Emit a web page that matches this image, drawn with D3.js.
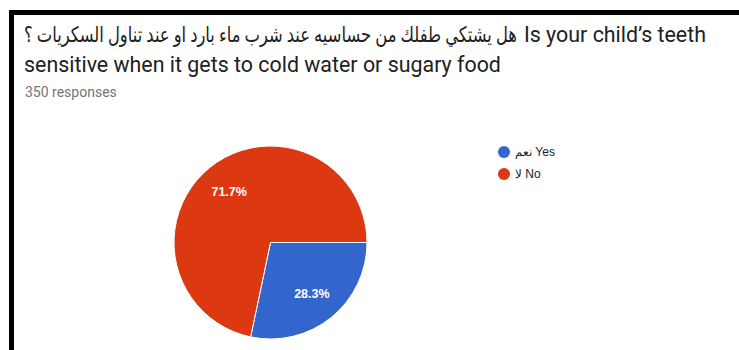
<!DOCTYPE html>
<html>
<head>
<meta charset="utf-8">
<script src="https://cdn.jsdelivr.net/npm/d3@7"></script>
<style>
  body { margin: 0; background: #fff; }
  svg { display: block; }
</style>
</head>
<body>
<svg id="chart"></svg>
<script>
// data
const categories = ['Yes', 'No']
const categoryLabels = ['\u2067نعم\u2069 Yes', '\u2067لا\u2069 No']
const shares = [28.3, 71.7]
const colors = ['#3366cc', '#dc3912']
const titleArabic = '\u2067هل يشتكي طفلك من حساسيه عند شرب ماء بارد او عند تناول السكريات ؟\u2069'
const titleEnglish = ['Is your child\u2019s teeth', 'sensitive when it gets to cold water or sugary food']
const subtitle = '350 responses'

const width = 739, height = 350
const svg = d3.select('#chart')
	.attr('width', width)
	.attr('height', height)

// black frame (top and left edges visible)
svg.append('path')
	.attr('d', `M11.5,${height} V12.5 H${width}`)
	.attr('fill', 'none')
	.attr('stroke', '#000')
	.attr('stroke-width', 5)

const titleFont = 'Roboto, "DejaVu Sans", sans-serif'
const titleSize = 21.4

// english end of line 1 sits flush at the right
const en1 = svg.append('text')
	.attr('x', 706)
	.attr('y', 42)
	.attr('text-anchor', 'end')
	.attr('font-family', titleFont)
	.attr('font-size', titleSize)
	.attr('fill', '#212121')
	.text(titleEnglish[0])
const en1Start = 706 - en1.node().getComputedTextLength()

// arabic part of line 1, narrowed to fit the room left of it
const ar = svg.append('text')
	.attr('font-family', titleFont)
	.attr('font-size', titleSize)
	.attr('fill', '#212121')
	.text(titleArabic)
const arRoom = en1Start - 7 - 24
const sx = Math.min(1, arRoom / ar.node().getComputedTextLength())
ar.attr('transform', `translate(24,42) scale(${sx},1)`)

svg.append('text')
	.attr('x', 24)
	.attr('y', 72)
	.attr('font-family', titleFont)
	.attr('font-size', titleSize)
	.attr('fill', '#212121')
	.text(titleEnglish[1])

svg.append('text')
	.attr('x', 25)
	.attr('y', 97)
	.attr('font-family', 'Roboto, sans-serif')
	.attr('font-size', 14)
	.attr('fill', '#757575')
	.text(subtitle)

// pie
const cx = 270.5, cy = 242.5, r = 96.5
const pie = d3.pie()
	.sort(null)
	.value(d => d)
	.startAngle(Math.PI / 2)
	.endAngle(Math.PI / 2 + 2 * Math.PI)
const arc = d3.arc().innerRadius(0).outerRadius(r)
const labelArc = d3.arc().innerRadius(r * 0.68).outerRadius(r * 0.68)
const arcs = pie(shares)

const g = svg.append('g').attr('transform', `translate(${cx},${cy})`)
g.selectAll('path')
	.data(arcs)
	.join('path')
	.attr('d', arc)
	.attr('fill', (d, i) => colors[i])
	.attr('stroke', '#fff')
	.attr('stroke-width', 1)

g.selectAll('text')
	.data(arcs)
	.join('text')
	.attr('transform', d => `translate(${labelArc.centroid(d)})`)
	.attr('text-anchor', 'middle')
	.attr('dy', '0.35em')
	.attr('font-family', 'Arial, "Liberation Sans", sans-serif')
	.attr('font-size', 12.5)
	.attr('font-weight', 'bold')
	.attr('fill', '#fff')
	.text(d => d.data.toFixed(1) + '%')

// legend
const legend = svg.append('g').attr('transform', 'translate(504,152)')
const item = legend.selectAll('g')
	.data(categories)
	.join('g')
	.attr('transform', (d, i) => `translate(0,${i * 22})`)
item.append('circle')
	.attr('r', 6)
	.attr('fill', (d, i) => colors[i])
item.append('text')
	.attr('x', 11)
	.attr('dy', '0.35em')
	.attr('font-family', 'Arial, "Liberation Sans", sans-serif')
	.attr('font-size', 12)
	.attr('fill', '#222')
	.text((d, i) => categoryLabels[i])
</script>
</body>
</html>
